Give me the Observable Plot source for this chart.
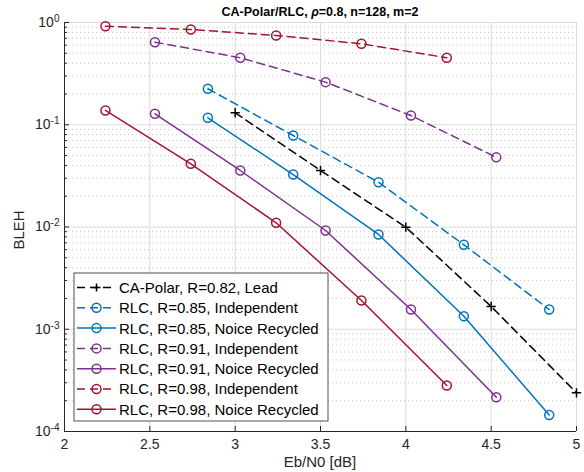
<!DOCTYPE html>
<html><head><meta charset="utf-8">
<script src="https://cdn.jsdelivr.net/npm/d3@7"></script>
<script src="https://cdn.jsdelivr.net/npm/@observablehq/plot@0.6"></script>
<style>
body{margin:0;background:#fff}
#chart{position:relative;width:584px;height:472px}
svg{font-family:"Liberation Sans",Arial,Helvetica,sans-serif}
</style>
</head><body><div id="chart"></div>
<script>
// ---- data ----
const ebn0Polar = [3.0, 3.5, 4.0, 4.5, 5.0];
const blerPolar = [0.131, 0.0357, 0.00995, 0.00167, 0.000239];

const ebn0R085 = [2.84, 3.34, 3.84, 4.34, 4.84];
const blerR085Ind = [0.225, 0.0785, 0.0274, 0.0067, 0.00156];
const blerR085Rec = [0.117, 0.0326, 0.00845, 0.00134, 0.000145];

const ebn0R091 = [2.53, 3.03, 3.53, 4.03, 4.53];
const blerR091Ind = [0.642, 0.452, 0.261, 0.123, 0.048];
const blerR091Rec = [0.128, 0.0357, 0.00924, 0.00156, 0.000216];

const ebn0R098 = [2.24, 2.74, 3.24, 3.74, 4.24];
const blerR098Ind = [0.92, 0.855, 0.746, 0.619, 0.452];
const blerR098Rec = [0.138, 0.0415, 0.011, 0.00191, 0.000282];

const seriesNames = [
  "CA-Polar, R=0.82, Lead",
  "RLC, R=0.85, Independent",
  "RLC, R=0.85, Noice Recycled",
  "RLC, R=0.91, Independent",
  "RLC, R=0.91, Noice Recycled",
  "RLC, R=0.98, Independent",
  "RLC, R=0.98, Noice Recycled"
];
const xTicks = [2, 2.5, 3, 3.5, 4, 4.5, 5];
const yTicks = [1e-4, 1e-3, 1e-2, 1e-1, 1];
const yTickLabels = ["10^-4", "10^-3", "10^-2", "10^-1", "10^0"];
const titleText = "CA-Polar/RLC, ρ=0.8, n=128, m=2";
const xLabel = "Eb/N0 [dB]";
const yLabel = "BLEH";

// ---- styles ----
const BLUE = "#0072BD", PURPLE = "#7E2F8E", RED = "#A2142F", BLACK = "#000000";
const series = [
  {name: seriesNames[0], x: ebn0Polar, y: blerPolar, color: BLACK, dash: true, symbol: "plus"},
  {name: seriesNames[1], x: ebn0R085, y: blerR085Ind, color: BLUE, dash: true, symbol: "circle"},
  {name: seriesNames[2], x: ebn0R085, y: blerR085Rec, color: BLUE, dash: false, symbol: "circle"},
  {name: seriesNames[3], x: ebn0R091, y: blerR091Ind, color: PURPLE, dash: true, symbol: "circle"},
  {name: seriesNames[4], x: ebn0R091, y: blerR091Rec, color: PURPLE, dash: false, symbol: "circle"},
  {name: seriesNames[5], x: ebn0R098, y: blerR098Ind, color: RED, dash: true, symbol: "circle"},
  {name: seriesNames[6], x: ebn0R098, y: blerR098Rec, color: RED, dash: false, symbol: "circle"}
];
const DASH = "8,5";

const minorY = [];
for (let e = -4; e < 0; e++) for (let m = 2; m <= 9; m++) minorY.push(m * Math.pow(10, e));

const marks = [
  Plot.gridY(minorY, {stroke: "#b8b8b8", strokeOpacity: 1, strokeDasharray: "1,3", strokeWidth: 0.8}),
  Plot.gridY(yTicks, {stroke: "#dcdcdc", strokeOpacity: 1, strokeWidth: 1}),
  Plot.gridX(xTicks, {stroke: "#dcdcdc", strokeOpacity: 1, strokeWidth: 1}),
  Plot.ruleX([2], {stroke: "#262626", strokeWidth: 1}),
  Plot.ruleY([1e-4], {stroke: "#262626", strokeWidth: 1}),
  Plot.axisX(xTicks, {tickSize: -5, text: null, stroke: "#262626", label: null}),
  Plot.axisX(xTicks, {tickSize: 0, tickPadding: 8, fill: "#262626", fontSize: 14, label: null, tickFormat: d => String(d)}),
  Plot.axisY(yTicks, {tickSize: -5, text: null, stroke: "#262626", label: null}),
  Plot.axisY(minorY, {tickSize: -3, text: null, stroke: "#262626", label: null}),
  Plot.axisY(yTicks, {tickSize: 0, tickPadding: 5, fill: "#262626", fontSize: 14, label: null,
    tickFormat: d => yTickLabels[yTicks.indexOf(d)]})
];
for (const s of series) {
  const data = s.x.map((x, i) => ({x, y: s.y[i]}));
  marks.push(Plot.line(data, {x: "x", y: "y", stroke: s.color, strokeWidth: 1.5,
    strokeDasharray: s.dash ? DASH : null}));
  marks.push(Plot.dot(data, {x: "x", y: "y", stroke: s.color, fill: "none", strokeWidth: 1.5,
    r: s.symbol === "plus" ? 3.1 : 4.5, symbol: s.symbol}));
}

const chart = Plot.plot({
  width: 584, height: 472,
  marginTop: 22, marginLeft: 64, marginRight: 8, marginBottom: 41,
  style: {fontFamily: '"Liberation Sans",Arial,Helvetica,sans-serif', background: "#fff"},
  x: {domain: [2, 5], label: null},
  y: {type: "log", domain: [1e-4, 1], label: null},
  marks
});
document.getElementById("chart").appendChild(chart);

const svg = d3.select(chart);
// superscript exponents on y tick labels
svg.selectAll('[aria-label="y-axis tick label"] text').each(function () {
  const t = d3.select(this);
  const [base, exp] = t.text().split("^");
  t.text(null);
  t.append("tspan").text(base);
  t.append("tspan").attr("dy", "-0.5em").attr("font-size", "0.72em").text(exp);
});

// title
const title = svg.append("text").attr("x", 320).attr("y", 15.5).attr("text-anchor", "middle")
  .attr("font-weight", "bold").attr("font-size", 12.5).attr("fill", "#000");
const parts = titleText.split("ρ");
title.append("tspan").text(parts[0]);
title.append("tspan").attr("font-style", "italic").text("ρ");
title.append("tspan").text(parts[1]);

// axis labels
svg.append("text").attr("x", 320).attr("y", 467).attr("text-anchor", "middle")
  .attr("font-size", 15).attr("fill", "#262626").text(xLabel);
svg.append("text").attr("transform", "translate(24,230) rotate(-90)").attr("text-anchor", "middle")
  .attr("font-size", 15).attr("fill", "#262626").text(yLabel);

// legend
const lg = svg.append("g").attr("text-anchor", "start");
const lx = 74, ly = 273, lw = 254, lh = 148, rowH = 20.3, row0 = 287.5;
lg.append("rect").attr("x", lx).attr("y", ly).attr("width", lw).attr("height", lh)
  .attr("fill", "#fff").attr("stroke", "#262626").attr("stroke-width", 0.8);
series.forEach((s, i) => {
  const cy = row0 + i * rowH;
  lg.append("line").attr("x1", 77).attr("x2", 116).attr("y1", cy).attr("y2", cy)
    .attr("stroke", s.color).attr("stroke-width", 1.5).attr("stroke-dasharray", s.dash ? DASH : null);
  if (s.symbol === "plus") {
    lg.append("path").attr("d", `M${96.5-4},${cy}h8M96.5,${cy-4}v8`).attr("stroke", s.color).attr("stroke-width", 1.5);
  } else {
    lg.append("circle").attr("cx", 96.5).attr("cy", cy).attr("r", 4.5).attr("fill", "none")
      .attr("stroke", s.color).attr("stroke-width", 1.5);
  }
  lg.append("text").attr("x", 119).attr("y", cy).attr("dy", "0.36em").attr("font-size", 15)
    .attr("text-anchor", "start").attr("fill", "#000").text(s.name);
});
</script>
</body></html>
